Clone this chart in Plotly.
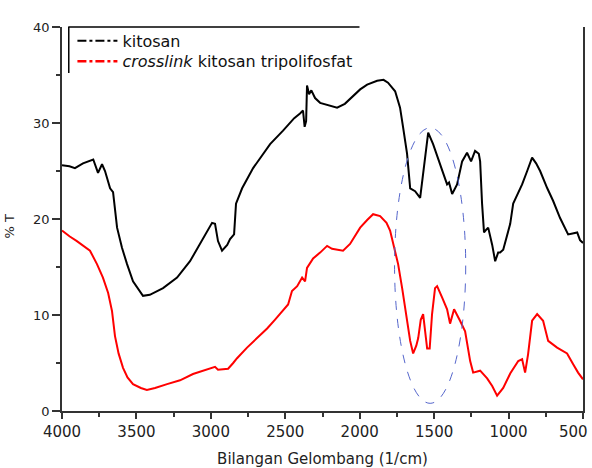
import plotly.graph_objects as go

# kitosan (black)
kit_x = [4000, 3950, 3913, 3859, 3790, 3758, 3731, 3711, 3677, 3657, 3630, 3597, 3563, 3523, 3456, 3410,
         3321, 3227, 3140, 3052, 2992, 2972, 2952, 2925, 2890, 2871, 2844, 2831, 2790, 2716, 2602, 2515,
         2440, 2401, 2381, 2370, 2360, 2354, 2340, 2325, 2300, 2266, 2200, 2152, 2100, 2065, 1997, 1950,
         1883, 1840, 1810, 1762, 1729, 1708, 1682, 1661, 1628, 1594, 1574, 1540, 1507, 1480, 1460, 1440,
         1413, 1400, 1379, 1346, 1312, 1279, 1252, 1225, 1200, 1191, 1178, 1165, 1150, 1137, 1110, 1090,
         1070, 1057, 1036, 1010, 989, 969, 940, 909, 875, 842, 815, 788, 740, 701, 654, 620, 600, 570,
         539, 520, 500]
kit_y = [25.6, 25.5, 25.3, 25.8, 26.2, 24.8, 25.7, 25.0, 23.2, 22.8, 19.1, 17.0, 15.3, 13.5, 12.0, 12.1,
         12.8, 13.9, 15.6, 18.0, 19.6, 19.5, 17.7, 16.7, 17.3, 17.9, 18.4, 21.6, 23.2, 25.3, 27.8, 29.2,
         30.5, 31.0, 31.3, 29.6, 30.2, 33.9, 33.0, 33.4, 32.6, 32.1, 31.8, 31.6, 32.0, 32.5, 33.5, 34.0,
         34.4, 34.5, 34.2, 33.3, 31.6, 29.5, 26.8, 23.2, 22.9, 22.2, 24.7, 29.0, 27.8, 26.5, 25.7, 24.8,
         23.6, 23.8, 22.6, 23.6, 26.0, 26.9, 26.0, 27.1, 26.8, 26.0, 21.6, 18.6, 18.9, 19.1, 17.3, 15.6,
         16.5, 16.5, 16.8, 18.2, 19.5, 21.6, 22.6, 23.6, 25.0, 26.4, 25.8, 25.0, 23.2, 21.9, 20.1, 19.0,
         18.4, 18.5, 18.6, 17.8, 17.5]

# crosslink kitosan tripolifosfat (red)
cl_x = [4000, 3950, 3900, 3850, 3812, 3765, 3725, 3690, 3664, 3644, 3620, 3590, 3560, 3523, 3470, 3430,
        3375, 3294, 3207, 3120, 3050, 3005, 2972, 2952, 2884, 2850, 2824, 2757, 2690, 2622, 2570, 2535,
        2481, 2455, 2420, 2387, 2367, 2354, 2313, 2266, 2219, 2186, 2112, 2065, 1997, 1950, 1910, 1863,
        1820, 1796, 1742, 1715, 1682, 1661, 1641, 1620, 1607, 1590, 1574, 1560, 1547, 1530, 1514, 1494,
        1480, 1446, 1413, 1393, 1366, 1326, 1292, 1258, 1238, 1191, 1144, 1110, 1077, 1036, 989, 935,
        909, 889, 869, 842, 808, 768, 734, 674, 607, 567, 533, 500]
cl_y = [18.8, 18.2, 17.7, 17.1, 16.7, 15.3, 13.9, 12.3, 10.4, 7.8, 6.0, 4.5, 3.5, 2.8, 2.4, 2.2,
        2.4, 2.8, 3.2, 3.85, 4.2, 4.5, 4.6, 4.3, 4.4, 5.0, 5.5, 6.6, 7.6, 8.6, 9.5, 10.1,
        11.1, 12.5, 13.0, 13.9, 13.5, 14.9, 15.9, 16.5, 17.2, 16.9, 16.7, 17.4, 19.1, 19.9, 20.5, 20.3,
        19.6, 18.8, 15.3, 12.8, 9.7, 7.3, 6.0, 6.8, 7.6, 9.5, 10.1, 8.0, 6.5, 6.5, 10.1, 12.8,
        13.0, 11.8, 10.6, 9.1, 10.6, 9.4, 8.3, 5.2, 4.0, 4.2, 3.4, 2.6, 1.6, 2.4, 3.9, 5.2,
        5.4, 4.0, 5.9, 9.4, 10.1, 9.4, 7.3, 6.6, 6.0, 4.9, 4.0, 3.3]

x_ticks = [4000, 3500, 3000, 2500, 2000, 1500, 1000, 500]
x_ticktext = ["4000", "3500", "3000", "2500", "2000", "1500", "1000", ""]
y_ticks = [0, 10, 20, 30, 40]

# highlighted region (ellipse)
ell_x = [1766, 1288]
ell_y = [0.8, 29.5]

FONT = "DejaVu Sans, Verdana, sans-serif"

fig = go.Figure()
fig.add_trace(go.Scatter(x=kit_x, y=kit_y, mode="lines", line=dict(color="black", width=2),
                         showlegend=False))
fig.add_trace(go.Scatter(x=cl_x, y=cl_y, mode="lines", line=dict(color="#ff0000", width=2),
                         showlegend=False))
# legend entries (dash-dot samples)
fig.add_trace(go.Scatter(x=[None], y=[None], mode="lines", name="kitosan", legend="legend",
                         line=dict(color="black", width=2, dash="dashdot")))
fig.add_trace(go.Scatter(x=[None], y=[None], mode="lines", name="<i>crosslink</i> kitosan tripolifosfat",
                         legend="legend2", line=dict(color="#ff0000", width=2.5, dash="dashdot")))

fig.add_shape(type="circle", xref="x", yref="y", x0=ell_x[0], x1=ell_x[1], y0=ell_y[0], y1=ell_y[1],
              line=dict(color="#5566cc", width=1, dash="dash"))
# legend box borders (top and left only)
fig.add_shape(type="line", xref="paper", yref="paper", x0=0.012, x1=0.571, y0=1, y1=1,
              line=dict(color="black", width=1.5))
fig.add_shape(type="line", xref="paper", yref="paper", x0=0.013, x1=0.013, y0=1, y1=0.88,
              line=dict(color="black", width=1.5))

fig.add_annotation(text="% T", xref="paper", yref="paper", x=-0.1, y=0.48, showarrow=False,
                   textangle=-90, font=dict(size=13, color="#222222"), xanchor="center", yanchor="middle")
# last x tick label, kept inside the page
fig.add_annotation(text="500", xref="paper", yref="paper", x=1.0134, y=-0.055, showarrow=False,
                   font=dict(size=15, color="#222222"), xanchor="right", yanchor="middle")

leg_common = dict(xanchor="left", yanchor="top", bgcolor="rgba(0,0,0,0)",
                  font=dict(size=16, color="#111111"), itemwidth=40, tracegroupgap=0)

fig.update_layout(
    width=592, height=468,
    margin=dict(l=62, r=9, t=27, b=57),
    plot_bgcolor="white", paper_bgcolor="white",
    font=dict(family=FONT, size=13, color="#222222"),
    legend=dict(x=0.02, y=1.008, **leg_common),
    legend2=dict(x=0.02, y=0.955, **leg_common),
    xaxis=dict(range=[4000, 500], tickvals=x_ticks, ticktext=x_ticktext,
               showgrid=False, zeroline=False, showline=True, linecolor="#333333", linewidth=1.5,
               ticks="outside", ticklen=6, tickwidth=1.5, tickcolor="#333333", automargin=False,
               minor=dict(dtick=250, ticks="outside", ticklen=4, tickcolor="#333333", tickwidth=1.5),
               title=dict(text="Bilangan Gelombang (1/cm)", font=dict(size=15), standoff=16),
               tickfont=dict(size=15)),
    yaxis=dict(range=[0, 40], tickvals=y_ticks, showgrid=False, zeroline=False, showline=True,
               mirror=True, linecolor="#333333", linewidth=1.5, automargin=False,
               ticks="outside", ticklen=8, tickwidth=1.5, tickcolor="#333333",
               minor=dict(dtick=5, ticks="outside", ticklen=4, tickcolor="#333333", tickwidth=1.5),
               tickfont=dict(size=13)),
)
fig.write_html("out.html")
